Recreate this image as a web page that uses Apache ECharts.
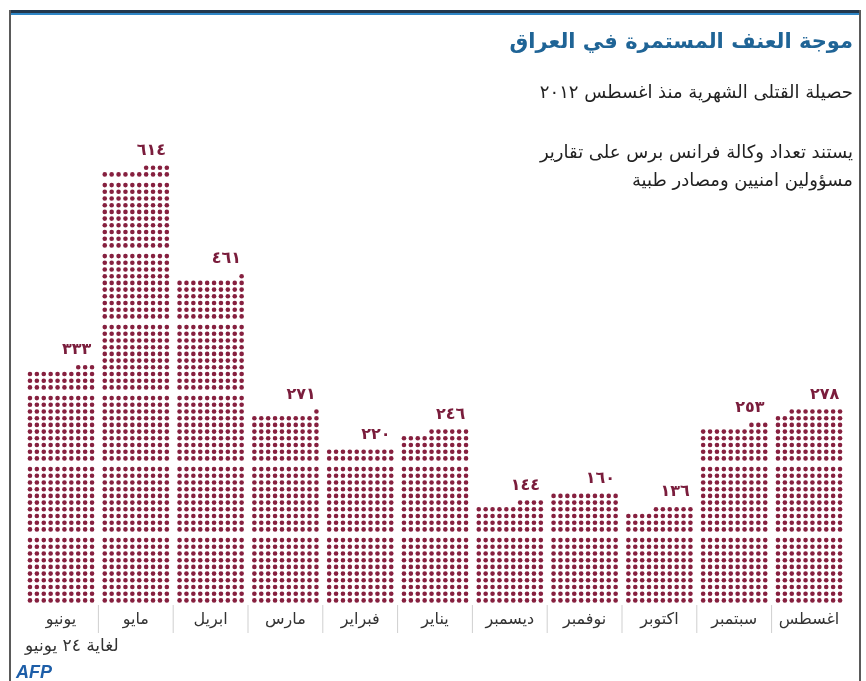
<!DOCTYPE html>
<html>
<head>
<meta charset="utf-8">
<script src="https://cdn.jsdelivr.net/npm/echarts@6/dist/echarts.min.js"></script>
<style>
  html, body { margin: 0; padding: 0; background: #fff; }
  #main { width: 866px; height: 681px; }
</style>
</head>
<body>
<div id="main"></div>
<script>
// months, chronological (Aug 2012 -> Jun 2013), drawn right to left
var months = ['اغسطس', 'سبتمبر', 'اكتوبر', 'نوفمبر', 'ديسمبر', 'يناير', 'فبراير', 'مارس', 'ابريل', 'مايو', 'يونيو'];
var deaths = [278, 253, 136, 160, 144, 246, 220, 271, 461, 614, 333];

var titleText = 'موجة العنف المستمرة في العراق';
var subText = 'حصيلة القتلى الشهرية منذ اغسطس ٢٠١٢';
var noteLines = ['يستند تعداد وكالة فرانس برس على تقارير', 'مسؤولين امنيين ومصادر طبية'];
var footText = 'لغاية ٢٤ يونيو';

var dotColor = '#86203f';
var arabicDigits = '٠١٢٣٤٥٦٧٨٩';

function toArabic(n) {
  return String(n).replace(/\d/g, function (d) { return arabicDigits[d]; });
}

// one dot per death, blocks of 10x10, partial row filled from the right
function renderItem(params, api) {
  var idx = api.value(0);
  var total = api.value(1);
  var base = api.coord([idx, 0]);
  var band = api.size([1, 0])[0];
  var blockH = api.size([0, 100])[1];
  var rowH = blockH * 0.0944;
  var colW = band * 0.0922;
  var r = 2.3;
  var children = [];
  var topY = base[1];
  for (var n = 0; n < total; n++) {
    var b = Math.floor(n / 100);
    var k = Math.floor((n % 100) / 10);
    var j = n % 10;
    var yb = api.coord([idx, b * 100])[1];
    var cx = base[0] + (4.5 - j) * colW;
    var cy = yb - 2.6 - k * rowH;
    if (cy < topY) topY = cy;
    children.push({
      type: 'circle',
      shape: { cx: cx, cy: cy, r: r },
      style: { fill: dotColor }
    });
  }
  // value label above the bar
  children.push({
    type: 'text',
    style: {
      text: toArabic(total),
      x: base[0] + 4.5 * colW + r - 3,
      y: topY - 17,
      align: 'right',
      verticalAlign: 'middle',
      fill: '#7a1d3c',
      font: 'bold 16px "DejaVu Sans"'
    }
  });
  // separator between months
  if (idx > 0) {
    children.push({
      type: 'line',
      shape: { x1: base[0] + band / 2, y1: base[1] + 2, x2: base[0] + band / 2, y2: base[1] + 30 },
      style: { stroke: '#cfcfcf', lineWidth: 1 }
    });
  }
  return { type: 'group', children: children };
}

var chart = echarts.init(document.getElementById('main'));

var option = {
  backgroundColor: '#fff',
  animation: false,
  textStyle: { fontFamily: 'DejaVu Sans' },
  grid: { left: 23.6, right: 19.6, top: 35, bottom: 78 },
  xAxis: {
    type: 'category',
    inverse: true,
    data: months,
    axisLine: { show: false },
    axisTick: { show: false },
    axisLabel: { interval: 0, hideOverlap: false, color: '#333', fontSize: 16, margin: 9, fontFamily: 'DejaVu Sans' }
  },
  yAxis: {
    type: 'value',
    min: 0,
    max: 800,
    show: false,
    splitLine: { show: false }
  },
  series: [{
    type: 'custom',
    renderItem: renderItem,
    encode: { x: 0, y: 1 },
    data: deaths.map(function (v, i) { return [i, v]; })
  }],
  graphic: [
    { type: 'rect', left: 9, top: 10, shape: { width: 851, height: 3 }, style: { fill: '#22384d' } },
    { type: 'rect', left: 9, top: 13, shape: { width: 851, height: 2 }, style: { fill: '#2f86c6' } },
    { type: 'rect', left: 9, top: 10, shape: { width: 2, height: 671 }, style: { fill: '#5a5a5a' } },
    { type: 'rect', left: 859, top: 10, shape: { width: 2, height: 671 }, style: { fill: '#5a5a5a' } },
    {
      type: 'text', right: 13, top: 32,
      style: { text: titleText, fill: '#1f6496', font: 'bold 21px "DejaVu Sans"' }
    },
    {
      type: 'text', right: 13, top: 84,
      style: { text: subText, fill: '#222', font: '18px "DejaVu Sans"' }
    },
    {
      type: 'text', right: 13, top: 144,
      style: { text: noteLines[0], fill: '#222', font: '18px "DejaVu Sans"' }
    },
    {
      type: 'text', right: 13, top: 172,
      style: { text: noteLines[1], fill: '#222', font: '18px "DejaVu Sans"' }
    },
    {
      type: 'text', left: 25, top: 638,
      style: { text: footText, fill: '#333', font: '17px "DejaVu Sans"' }
    },
    {
      type: 'text', left: 16, top: 664,
      style: { text: 'AFP', fill: '#1d5ea8', font: 'italic bold 18px "Liberation Sans"' }
    }
  ]
};

chart.setOption(option);
</script>
</body>
</html>
